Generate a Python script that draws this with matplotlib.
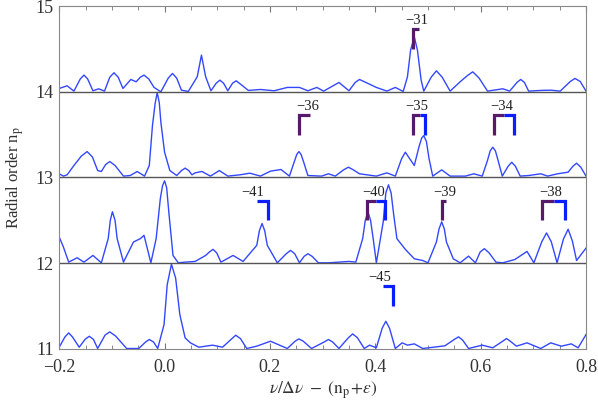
import numpy as np
import matplotlib.pyplot as plt

plt.rcParams['font.family'] = ['Liberation Serif', 'DejaVu Serif']
plt.rcParams['mathtext.fontset'] = 'stix'

# spectra: frequency offset and normalised power, one per radial order
# (peaks/troughs, plus a few points on the flanks)
x11 = [-0.200, -0.182, -0.162, -0.143, -0.127, -0.104, -0.072, -0.049, -0.029, -0.013,
       -0.001, 0.005, 0.013, 0.021, 0.029, 0.039, 0.049, 0.065, 0.091, 0.110,
       0.135, 0.156, 0.175, 0.201, 0.233, 0.255, 0.279, 0.311, 0.331, 0.357,
       0.379, 0.389, 0.402, 0.420, 0.438, 0.451, 0.461, 0.474, 0.490, 0.532,
       0.558, 0.577, 0.603, 0.623, 0.649, 0.668, 0.688, 0.714, 0.733, 0.753,
       0.772, 0.785, 0.800]
p11 = [0.019, 0.186, 0.019, 0.147, 0.004, 0.198, 0.004, 0.004, 0.109, 0.004,
       0.283, 0.748, 0.988, 0.826, 0.399, 0.128, 0.070, 0.019, 0.043, 0.019,
       0.159, 0.004, 0.031, 0.089, 0.004, 0.116, 0.004, 0.109, 0.004, 0.174,
       0.004, 0.043, 0.012, 0.322, 0.004, 0.070, 0.043, 0.058, 0.004, 0.035,
       0.140, 0.004, 0.043, 0.012, 0.120, 0.031, 0.070, 0.004, 0.070, 0.031,
       0.058, 0.012, 0.167]
x11_flank = [-0.189, -0.175, -0.151, -0.135, -0.113, -0.093, -0.036, -0.021, 0.128, 0.144,
             0.248, 0.263, 0.303, 0.319, 0.349, 0.366, 0.413, 0.427, 0.550, 0.566,
             0.642, 0.656]
p11_flank = [0.14, 0.14, 0.11, 0.11, 0.16, 0.15, 0.08, 0.08, 0.12, 0.12,
             0.09, 0.09, 0.08, 0.08, 0.13, 0.13, 0.24, 0.24, 0.11, 0.10,
             0.09, 0.09]

x12 = [-0.200, -0.192, -0.182, -0.166, -0.153, -0.136, -0.120, -0.107, -0.099, -0.090,
       -0.078, -0.059, -0.046, -0.039, -0.026, -0.016, -0.008, 0.000, 0.008, 0.016,
       0.026, 0.039, 0.058, 0.078, 0.092, 0.107, 0.130, 0.149, 0.175, 0.185,
       0.195, 0.214, 0.239, 0.256, 0.272, 0.292, 0.311, 0.350, 0.363, 0.376,
       0.386, 0.396, 0.402, 0.415, 0.425, 0.435, 0.441, 0.457, 0.474, 0.490,
       0.500, 0.516, 0.526, 0.535, 0.548, 0.561, 0.577, 0.590, 0.607, 0.629,
       0.642, 0.665, 0.688, 0.701, 0.725, 0.745, 0.766, 0.782, 0.800]
p12 = [0.306, 0.188, 0.012, 0.063, 0.012, 0.090, 0.004, 0.286, 0.600, 0.286,
       0.012, 0.247, 0.286, 0.325, 0.004, 0.286, 0.757, 0.961, 0.600, 0.090,
       0.004, 0.012, 0.020, 0.090, 0.161, 0.012, 0.090, 0.020, 0.208, 0.463,
       0.208, 0.004, 0.149, 0.004, 0.110, 0.004, 0.004, 0.020, 0.012, 0.286,
       0.600, 0.286, 0.004, 0.482, 0.914, 0.561, 0.286, 0.161, 0.051, 0.031,
       0.004, 0.247, 0.482, 0.247, 0.051, 0.004, 0.082, 0.004, 0.169, 0.012,
       0.004, 0.043, 0.137, 0.004, 0.353, 0.004, 0.396, 0.031, 0.176]
x12_flank = [-0.103, -0.094, -0.004, 0.004, 0.085, 0.099, 0.180, 0.190, 0.231, 0.247,
             0.265, 0.280, 0.381, 0.391, 0.420, 0.430, 0.521, 0.531, 0.599, 0.616,
             0.716, 0.734, 0.757, 0.774]
p12_flank = [0.50, 0.50, 0.90, 0.88, 0.13, 0.12, 0.38, 0.38, 0.11, 0.11,
             0.08, 0.08, 0.50, 0.50, 0.82, 0.82, 0.40, 0.40, 0.13, 0.12,
             0.25, 0.25, 0.28, 0.26]

x13 = [-0.200, -0.192, -0.185, -0.172, -0.147, -0.127, -0.120, -0.104, -0.078, -0.065,
       -0.052, -0.038, -0.029, -0.023, -0.014, -0.007, 0.000, 0.010, 0.023, 0.039,
       0.052, 0.058, 0.071, 0.087, 0.104, 0.120, 0.143, 0.162, 0.182, 0.201,
       0.221, 0.237, 0.255, 0.272, 0.298, 0.311, 0.324, 0.349, 0.370, 0.402,
       0.422, 0.438, 0.457, 0.474, 0.492, 0.509, 0.526, 0.542, 0.571, 0.587,
       0.603, 0.623, 0.641, 0.659, 0.675, 0.691, 0.714, 0.727, 0.746, 0.766,
       0.782, 0.800]
p13 = [0.043, 0.016, 0.031, 0.140, 0.302, 0.081, 0.070, 0.186, 0.016, 0.023,
       0.070, 0.016, 0.140, 0.605, 0.992, 0.643, 0.295, 0.081, 0.023, 0.109,
       0.031, 0.054, 0.070, 0.016, 0.081, 0.016, 0.031, 0.050, 0.016, 0.074,
       0.093, 0.016, 0.302, 0.023, 0.016, 0.043, 0.016, 0.120, 0.043, 0.016,
       0.054, 0.016, 0.295, 0.140, 0.488, 0.016, 0.089, 0.016, 0.016, 0.043,
       0.016, 0.353, 0.016, 0.178, 0.016, 0.023, 0.043, 0.016, 0.043, 0.062,
       0.167, 0.016]
x13_flank = [-0.158, -0.137, -0.112, -0.094, -0.018, -0.010, 0.032, 0.046, 0.246, 0.251,
             0.259, 0.264, 0.340, 0.358, 0.450, 0.463, 0.483, 0.488, 0.497, 0.502,
             0.613, 0.618, 0.628, 0.633, 0.652, 0.666, 0.775, 0.790]
p13_flank = [0.25, 0.24, 0.15, 0.14, 0.86, 0.87, 0.08, 0.08, 0.18, 0.27,
             0.27, 0.18, 0.09, 0.09, 0.22, 0.24, 0.36, 0.46, 0.42, 0.22,
             0.20, 0.31, 0.31, 0.20, 0.13, 0.13, 0.13, 0.12]

x14 = [-0.200, -0.185, -0.172, -0.153, -0.136, -0.125, -0.114, -0.096, -0.079, -0.064,
       -0.054, -0.039, -0.020, -0.007, 0.015, 0.032, 0.045, 0.062, 0.070, 0.078,
       0.088, 0.105, 0.120, 0.136, 0.159, 0.182, 0.208, 0.233, 0.256, 0.272,
       0.289, 0.302, 0.331, 0.350, 0.370, 0.389, 0.402, 0.422, 0.438, 0.453,
       0.461, 0.467, 0.474, 0.480, 0.487, 0.492, 0.516, 0.542, 0.561, 0.585,
       0.613, 0.642, 0.655, 0.676, 0.691, 0.714, 0.733, 0.751, 0.779, 0.800]
p14 = [0.039, 0.070, 0.008, 0.195, 0.012, 0.035, 0.008, 0.222, 0.039, 0.144,
       0.117, 0.195, 0.051, 0.000, 0.214, 0.019, 0.004, 0.175, 0.428, 0.175,
       0.012, 0.136, 0.012, 0.128, 0.016, 0.027, 0.012, 0.051, 0.051, 0.012,
       0.051, 0.008, 0.109, 0.012, 0.144, 0.089, 0.051, 0.008, 0.051, 0.004,
       0.175, 0.486, 0.642, 0.486, 0.136, 0.008, 0.245, 0.008, 0.117, 0.233,
       0.008, 0.035, 0.008, 0.144, 0.008, 0.016, 0.019, 0.008, 0.156, 0.008]
x14_flank = [-0.160, -0.146, -0.104, -0.088, -0.046, -0.030, 0.007, 0.023, 0.098, 0.112,
             0.129, 0.144, 0.362, 0.506, 0.527, 0.575, 0.597, 0.669, 0.683, 0.770,
             0.789]
p14_flank = [0.15, 0.15, 0.17, 0.17, 0.17, 0.15, 0.16, 0.16, 0.10, 0.10,
             0.10, 0.09, 0.11, 0.17, 0.17, 0.19, 0.16, 0.11, 0.11, 0.12,
             0.12]

orders = [11, 12, 13, 14]
freqs = [x11 + x11_flank, x12 + x12_flank, x13 + x13_flank, x14 + x14_flank]
powers = [p11 + p11_flank, p12 + p12_flank, p13 + p13_flank, p14 + p14_flank]

# mode brackets: order, label, label x, purple half (left), blue half (right)
mark_order = [14, 13, 13, 13, 12, 12, 12, 12, 11]
mark_label = ['-31', '-36', '-35', '-34', '-41', '-40', '-39', '-38', '-45']
mark_text_x = [0.478, 0.272, 0.479, 0.639, 0.167, 0.397, 0.532, 0.733, 0.409]
mark_purple = [(0.472, 0.483), (0.255, 0.276), (0.472, 0.485), (0.626, 0.644), None,
               (0.384, 0.402), (0.527, 0.535), (0.717, 0.740), None]
mark_blue = [None, None, (0.485, 0.494), (0.644, 0.663), (0.175, 0.196),
             (0.402, 0.418), None, (0.740, 0.760), (0.415, 0.433)]

purple = '#561a6b'
blue = '#0a1eff'

fig = plt.figure(figsize=(5.98, 4.08), dpi=100)
ax = fig.add_axes([0.099, 0.145, 0.881, 0.840])

for n, f, p in zip(orders, freqs, powers):
    order = np.argsort(f)
    ax.plot(np.array(f)[order], n + np.array(p)[order], color='#3347ff', lw=1.0,
            solid_joinstyle='round')

for n in [12, 13, 14]:
    ax.axhline(n, color='#555555', lw=1.0)

for n, lab, tx, pu, bl in zip(mark_order, mark_label, mark_text_x, mark_purple, mark_blue):
    top, bot = n + 0.73, n + 0.50
    if pu is not None:
        ax.plot([pu[0], pu[0], pu[1]], [bot, top, top], color=purple, lw=2.3,
                solid_joinstyle='miter', solid_capstyle='butt')
    if bl is not None:
        ax.plot([bl[0], bl[1], bl[1]], [top, top, bot], color=blue, lw=2.3,
                solid_joinstyle='miter', solid_capstyle='butt')
    ax.text(tx, n + 0.83, lab.replace('-', '\u2212'), ha='center', va='center',
            fontsize=10.5, color='#222222')

ax.set_xlim(-0.2, 0.8)
ax.set_ylim(11, 15)
ax.set_xticks([-0.2, 0.0, 0.2, 0.4, 0.6, 0.8])
ax.set_xticklabels(['\u22120.2', '0.0', '0.2', '0.4', '0.6', '0.8'])
ax.set_xticks(np.arange(-0.2, 0.801, 0.05), minor=True)
ax.set_yticks([11, 12, 13, 14, 15])
ax.tick_params(axis='x', which='both', direction='in', top=True, colors='#777777',
               labelcolor='#333333', labelsize=13, pad=7)
ax.tick_params(axis='x', which='major', length=4.5)
ax.tick_params(axis='x', which='minor', length=3)
ax.tick_params(axis='y', length=0, labelcolor='#333333', labelsize=13, pad=4)
for s in ax.spines.values():
    s.set_color('#888888')

ax.set_xlabel(r'$\nu/\Delta\nu\ -\ (\mathrm{n_p}\!+\!\epsilon)$', fontsize=12.5,
              color='#333333', labelpad=3)
ax.set_ylabel(r'Radial order n$_\mathrm{p}$', fontsize=12, color='#333333', labelpad=7)

fig.savefig('out.png', dpi=100)
